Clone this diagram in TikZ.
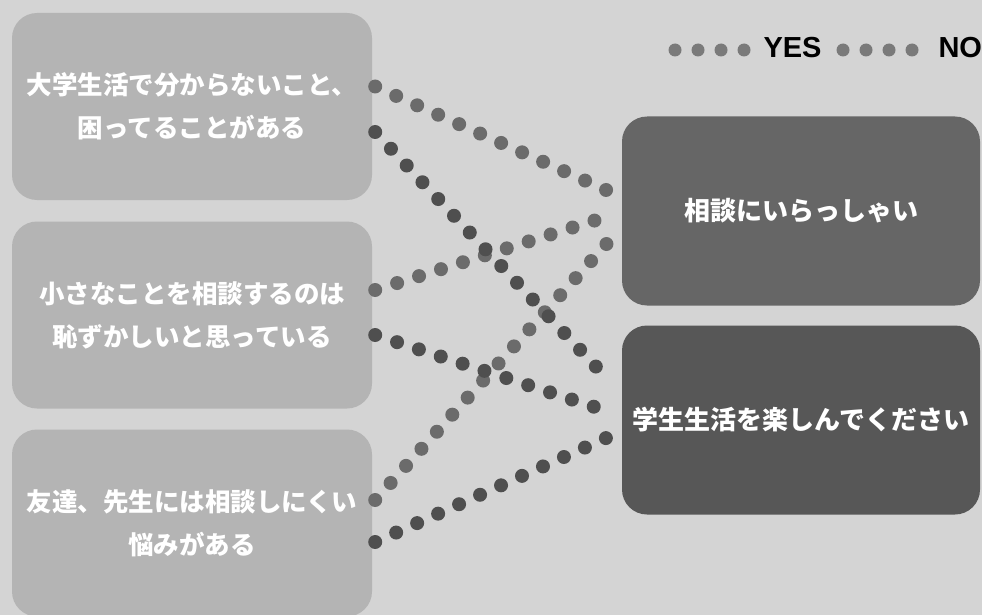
\documentclass[tikz,border=0pt]{standalone}
\usepackage{fontspec}
\setmainfont{Liberation Sans}
\newfontfamily\jpfont{Noto Sans CJK JP}
\usetikzlibrary{positioning,calc}
\definecolor{bggray}{HTML}{D4D4D4}
\definecolor{qgray}{HTML}{B4B4B4}
\definecolor{consultgray}{HTML}{666666}
\definecolor{enjoygray}{HTML}{575757}
\definecolor{yesgray}{HTML}{6B6B6B}
\definecolor{nogray}{HTML}{4F4F4F}
\tikzset{x=1pt, y=-1pt, % Pixel-like units, y downwards
        question/.style={ % Boxes with the questions on the left
            fill=qgray, rounded corners=25pt,
            minimum width=360pt, minimum height=187pt,
            text=white, align=center,
            font=\jpfont\bfseries\fontsize{25.5}{43}\selectfont},
        answer/.style={ % Boxes with the answers on the right
            rounded corners=25pt,
            minimum width=358pt, minimum height=189pt,
            text=white, align=center,
            font=\jpfont\bfseries\fontsize{26}{30}\selectfont},
        dots/.style={ % Dotted connectors
            line width=14pt, line cap=round,
            dash pattern=on 0pt off 23pt},
        yesline/.style={dots, draw=yesgray},
        noline/.style={dots, draw=nogray},
        legend/.style={font=\bfseries\fontsize{29}{30}\selectfont}
        }
\begin{document}
\begin{tikzpicture}
    \useasboundingbox[fill=bggray] (0,0) rectangle (982,615);

    \node[question] (q1) at (192,106.5) {大学生活で分からないこと、\\困ってることがある};
    \node[question] (q2) at (192,315) {小さなことを相談するのは\\恥ずかしいと思っている};
    \node[question] (q3) at (192,523) {友達、先生には相談しにくい\\悩みがある};

    \node[answer, fill=consultgray] (consult) at (801,211) {相談にいらっしゃい};
    \node[answer, fill=enjoygray]   (enjoy)   at (801,420) {学生生活を楽しんでください};

    % legend
    \coordinate (yesa) at (675,50);
    \coordinate (yesb) at (745,50);
    \coordinate (noa) at (843,50);
    \coordinate (nob) at (913,50);
    \draw[yesline, line width=13pt, draw=yesgray!90!white] (yesa) -- (yesb);
    \draw[yesline, line width=13pt, draw=yesgray!90!white] (noa) -- (nob);
    \node[legend, anchor=west] (yes) at (760,48) {YES};
    \node[legend, anchor=west] (no)  at (935,48) {NO};

    % YES
    \draw[yesline] ($(q1.east)+(3,-20)$) -- ($(consult.west)+(-9,-18)$);
    \draw[yesline] ($(q2.east)+(3,-25)$) -- ($(consult.west)+(-16,6)$);
    \draw[yesline] ($(q3.east)+(3,-23)$) -- ($(consult.west)+(-9,26)$);
    % NO
    \draw[noline] ($(q1.east)+(3,25.5)$) -- ($(enjoy.west)+(-18,-45)$);
    \draw[noline] ($(q2.east)+(3,20)$) -- ($(enjoy.west)+(-18,-10)$);
    \draw[noline] ($(q3.east)+(3,19)$) -- ($(enjoy.west)+(-9,15)$);
\end{tikzpicture}
\end{document}
